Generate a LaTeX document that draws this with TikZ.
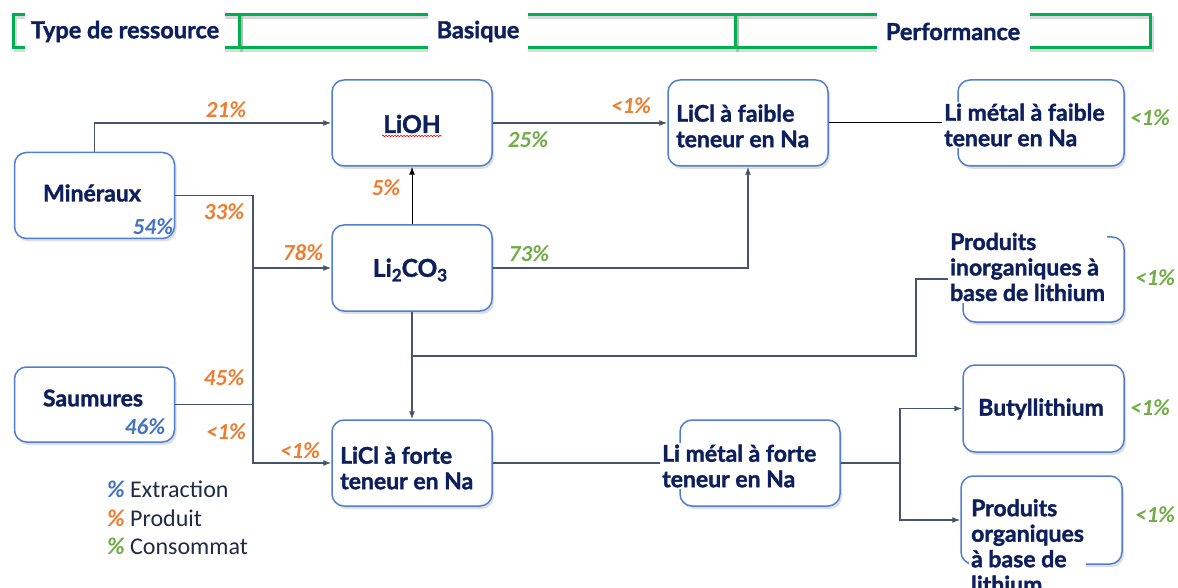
\documentclass[tikz,border=0pt]{standalone}
\usepackage{fontspec}
\setmainfont{Lato}[BoldFeatures={FakeBold=1.5}]
\newfontfamily\pctfont{Carlito}[BoldFeatures={FakeBold=0.8}]
\usetikzlibrary{arrows.meta,shadows,decorations.pathmorphing}
\definecolor{navy}{HTML}{0D1F5C}
\definecolor{boxblue}{HTML}{4F7FD0}
\definecolor{pblue}{HTML}{4472C4}
\definecolor{porange}{HTML}{ED7D31}
\definecolor{pgreen}{HTML}{70AD47}
\definecolor{hgreen}{HTML}{00B050}
\definecolor{conncol}{HTML}{44546A}
\definecolor{legtext}{HTML}{1F2A44}
\tikzset{
 box/.style={draw=boxblue, line width=1.5pt, rounded corners=12pt, fill=white,
   drop shadow={opacity=0.25, shadow xshift=2pt, shadow yshift=-3pt},
   minimum width=160pt, minimum height=86pt, inner sep=0pt},
 lbl/.style={text=navy, font=\fontsize{23}{25.5}\selectfont\bfseries, align=left, inner sep=2pt},
 wlbl/.style={lbl, fill=white},
 big/.style={text=navy, font=\fontsize{24.5}{28}\selectfont\bfseries, inner sep=1pt},
 pct/.style={font=\pctfont\fontsize{23}{25}\selectfont\bfseries\itshape, inner sep=0pt},
 po/.style={pct, text=porange},
 pg/.style={pct, text=pgreen},
 pb/.style={pct, text=pblue},
 conn/.style={draw=conncol, line width=1.2pt},
 tip/.style={-{Latex[length=8pt,width=6pt]}},
 hdr/.style={draw=hgreen, line width=3pt},
 hshadow/.style={draw=black, opacity=0.15, line width=3pt},
 hlab/.style={fill=white, text=navy, font=\fontsize{23.5}{26}\selectfont\bfseries, inner sep=0pt, minimum height=44pt},
 leg/.style={text=legtext, font=\pctfont\fontsize{24}{26}\selectfont, anchor=west, inner sep=0pt},
}
\begin{document}
\begin{tikzpicture}[x=1pt,y=-1pt]
\useasboundingbox (0,0) rectangle (1178,588);
% header
\draw[hshadow] (15,18) rectangle (241,51);
\draw[hshadow] (241,18) rectangle (737,51);
\draw[hshadow] (737,18) rectangle (1152,51);
\draw[hdr] (13,15) rectangle (239,48);
\draw[hdr] (239,15) rectangle (735,48);
\draw[hdr] (735,15) rectangle (1150,48);
\node[hlab, minimum width=200pt] (h1) at (125,31.5) {Type de ressource};
\node[hlab, minimum width=100pt] (h2) at (478,31.5) {Basique};
\node[hlab, minimum width=153pt] (h3) at (953,31.5) {Performance};

% boxes
\node[box] (min) at (94.5,195.5) {};
\node[box, minimum height=75pt] (saum) at (94.5,404.5) {};
\node[box] (lioh) at (412,123) {};
\node[box] (li2) at (412,268) {};
\node[box] (liclfo) at (412,463) {};
\node[box] (liclfa) at (748,123) {};
\node[box, minimum width=166pt] (lmfa) at (1041,123) {};
\node[box, minimum width=161pt, minimum height=85pt] (inorg) at (1043.5,279.5) {};
\node[box, minimum width=161pt, minimum height=87pt] (buty) at (1043.5,408.5) {};
\node[box, minimum width=161pt, minimum height=88pt] (org) at (1041.5,520) {};
\node[box] (lmfo) at (760,463) {};

% texts
\node[lbl] (mint) at (92,193) {Minéraux};
\node[lbl] (saumt) at (93,398) {Saumures};
\node[big] (lioht) at (412,124) {LiOH};
\draw[red, line width=0.6pt, decorate, decoration={snake, amplitude=0.8pt, segment length=3pt}]
  ([yshift=-3pt]lioht.base west) -- ([yshift=-3pt]lioht.base east);
\node[big] (li2t) at (410,270) {Li\raisebox{-4.5pt}{\fontsize{17}{17}\selectfont 2}CO\raisebox{-4.5pt}{\fontsize{17}{17}\selectfont 3}};
\node[lbl, anchor=west] (liclfot) at (338,468) {LiCl à forte\\teneur en Na};
\node[lbl, anchor=west] (liclfat) at (674,126) {LiCl à faible\\teneur en Na};
\node[wlbl, anchor=west] (lmfat) at (942,125) {Li métal à faible\\teneur en Na};
\node[wlbl, anchor=west] (inorgt) at (948,267) {Produits\\inorganiques à\\base de lithium};
\node[lbl] (butyt) at (1041,409) {Butyllithium};
\node[wlbl, anchor=west] (lmfot) at (660,466) {Li métal à forte\\teneur en Na};
\node[wlbl, anchor=west] (orgt) at (969,546) {Produits\\organiques\\à base de\\lithium};

% percentages
\node[pb] (b54) at (153,227) {54\%};
\node[pb] (b46) at (145,427) {46\%};
\node[po] (p21) at (226,110) {21\%};
\node[po] (p33) at (224,212) {33\%};
\node[po] (p78) at (303,253) {78\%};
\node[po] (p45) at (224,378) {45\%};
\node[po] (p1a) at (226,432) {<1\%};
\node[po] (p1b) at (300,451) {<1\%};
\node[po] (p5) at (386,188) {5\%};
\node[po] (p1c) at (631,106) {<1\%};
\node[pg] (p25) at (528,140) {25\%};
\node[pg] (p73) at (529,254) {73\%};
\node[pg] (g1) at (1150,118) {<1\%};
\node[pg] (g2) at (1155,278) {<1\%};
\node[pg] (g3) at (1150,408) {<1\%};
\node[pg] (g4) at (1155,515) {<1\%};

% legend
\node[leg] (l1) at (107,489) {{\bfseries\itshape\color{pblue}\%}\ Extraction};
\node[leg] (l2) at (107,518) {{\bfseries\itshape\color{porange}\%}\ Produit};
\node[leg] (l3) at (107,546) {{\bfseries\itshape\color{pgreen}\%}\ Consommat};

% junctions
\coordinate (jmid) at (253,268);
\coordinate (jbot) at (253,463);
\coordinate (jin) at (412,356);
\coordinate (kin) at (916,279);
\coordinate (jb) at (900,463);

% connectors
\draw[conn, tip] (min.north) |- (lioh.west);
\draw[conn, tip] (min.east) -| (jbot) -- (liclfo.west);
\draw[conn, tip] (jmid) -- (li2.west);
\draw[conn] (saum.east) -- (saum.east -| jbot);
\draw[black, line width=1pt, tip] (li2.north) -- (lioh.south);
\draw[conn, tip] (lioh.east) -- (liclfa.west);
\draw[conn, tip] (li2.east) -| (liclfa.south);
\draw[conn, tip] (li2.south) -- (liclfo.north);
\draw[conn] (jin) -| (kin) -- (kin -| inorgt.west);
\draw[conn] (liclfo.east) -- (liclfo.east -| lmfot.west);
\draw[black, line width=1pt] (liclfa.east) -- (liclfa.east -| lmfat.west);
\draw[conn] (lmfo.east) -- (jb);
\draw[conn, tip] (jb) |- (buty.west);
\draw[conn, tip] (jb) |- (org.west);
\end{tikzpicture}
\end{document}
